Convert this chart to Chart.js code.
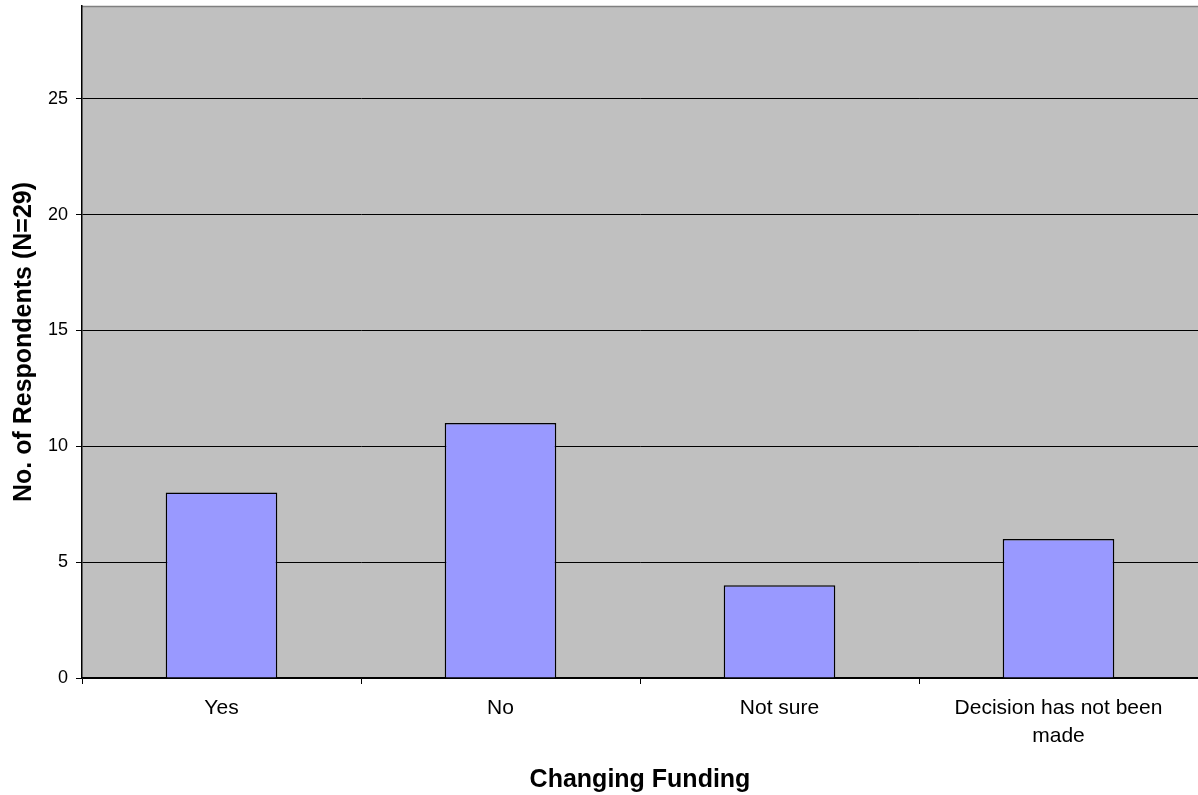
<!DOCTYPE html>
<html>
<head>
<meta charset="utf-8">
<script src="https://cdn.jsdelivr.net/npm/chart.js@4"></script>
<style>
  html, body { margin: 0; padding: 0; background: #ffffff; }
  #wrap { width: 1198px; height: 795px; }
</style>
</head>
<body>
<div id="wrap"><canvas id="c" width="1198" height="795"></canvas></div>
<script>
const categories = ['Yes', 'No', 'Not sure', ['Decision has not been', 'made']];
const respondents = [8, 11, 4, 6];
const yTicks = [0, 5, 10, 15, 20, 25];
const yMax = 29;

// Grey plot background with a thin top border
const plotBackground = {
  id: 'plotBackground',
  beforeDraw(chart) {
    const { ctx, chartArea: a } = chart;
    ctx.save();
    ctx.fillStyle = '#C0C0C0';
    ctx.fillRect(a.left, a.top, a.right - a.left, a.bottom - a.top);
    ctx.strokeStyle = '#808080';
    ctx.lineWidth = 1.5;
    ctx.beginPath();
    ctx.moveTo(a.left, a.top + 0.5);
    ctx.lineTo(a.right, a.top + 0.5);
    ctx.stroke();
    ctx.restore();
  }
};

new Chart(document.getElementById('c'), {
  type: 'bar',
  data: {
    labels: categories,
    datasets: [{
      data: respondents,
      backgroundColor: '#9999FF',
      borderColor: '#000000',
      borderWidth: 1.5,
      barPercentage: 0.4,
      categoryPercentage: 1.0
    }]
  },
  options: {
    responsive: false,
    animation: false,
    devicePixelRatio: 1,
    layout: { padding: { top: 6, right: 0, left: 0, bottom: 0 } },
    plugins: { legend: { display: false }, tooltip: { enabled: false } },
    scales: {
      x: {
        offset: true,
        grid: {
          offset: true,
          drawOnChartArea: false,
          drawTicks: true,
          tickLength: 6,
          color: '#000000'
        },
        border: { color: '#000000', width: 1.5 },
        ticks: {
          color: '#000000',
          font: { family: 'Liberation Sans', size: 21, lineHeight: 1.33 },
          padding: 10,
          maxRotation: 0
        },
        title: {
          display: true,
          text: 'Changing Funding',
          color: '#000000',
          font: { family: 'Liberation Sans', size: 25, weight: 'bold' },
          padding: { top: 20, bottom: 0 }
        },
        afterFit(scale) {
          scale.height = 117;
          scale.paddingLeft = 0;
          scale.paddingRight = 0;
        }
      },
      y: {
        min: 0,
        max: yMax,
        afterBuildTicks(scale) { scale.ticks = yTicks.map(v => ({ value: v })); },
        grid: {
          color: '#000000',
          lineWidth: 1,
          drawTicks: true,
          tickLength: 6
        },
        border: { color: '#000000', width: 1.5 },
        ticks: {
          color: '#000000',
          font: { family: 'Liberation Sans', size: 18 },
          padding: 8
        },
        title: {
          display: true,
          text: 'No. of Respondents (N=29)',
          color: '#000000',
          font: { family: 'Liberation Sans', size: 25, weight: 'bold' },
          padding: { top: 9, bottom: 0 }
        },
        afterFit(scale) {
          scale.width = 82;
          scale.paddingTop = 0;
          scale.paddingBottom = 0;
        }
      }
    }
  },
  plugins: [plotBackground]
});
</script>
</body>
</html>
